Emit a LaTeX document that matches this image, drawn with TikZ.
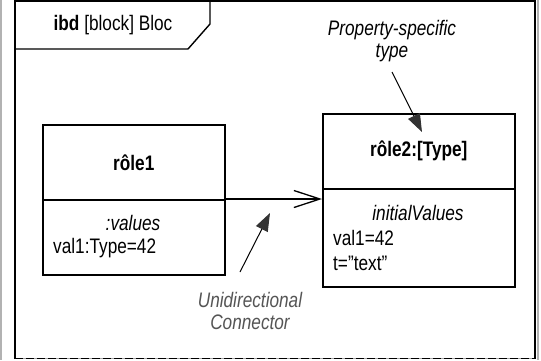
\documentclass[tikz,border=0pt]{standalone}
\usepackage{fontspec}
\setmainfont{Liberation Sans}[FakeStretch=0.82]
\usetikzlibrary{arrows.meta}
\definecolor{annot}{HTML}{333333}
\definecolor{greytxt}{HTML}{555555}
\tikzset{
  fnt/.style={font=\fontsize{21}{24}\selectfont},
  box/.style={draw=black, line width=1.6pt, inner sep=0pt, anchor=north west},
  txt/.style={fnt, inner sep=0pt},
  annarrow/.style={line width=1pt, -{Triangle[length=18pt,width=13pt,fill=annot,color=annot]}},
}
\begin{document}
\begin{tikzpicture}[x=1pt,y=-1pt]
\useasboundingbox (0,0) rectangle (541,360);
\fill[white] (0,0) rectangle (541,360);
% page edges
\draw[gray!60, line width=1.2pt] (1,0) -- (1,360);
\draw[gray!60, line width=1.2pt] (538,0) -- (538,360);
% frame
\draw[black, line width=1.8pt] (15,359) -- (15,0.9) -- (535,0.9) -- (535,359);
\draw[gray!70, line width=1.6pt] (15,358.5) -- (535,358.5);
\draw[black, line width=1.6pt, dash pattern=on 8pt off 3pt] (15,358.5) -- (535,358.5);
\draw[black, line width=1.4pt] (15,49) -- (188,49) -- (210,24) -- (210,0.9);
\node[txt] (title) at (113,25) {\textbf{ibd} [block] Bloc};
% block rôle1
\node[box, minimum width=182pt, minimum height=75pt] (r1h) at (42,124) {};
\node[box, minimum width=182pt, minimum height=75pt] (r1b) at (42,199) {};
\node[txt, font=\fontsize{21}{24}\selectfont\bfseries] (r1t) at (r1h.center) {rôle1};
\node[txt, font=\fontsize{21}{24}\selectfont\itshape] (r1v) at (133,223) {:values};
\node[txt, anchor=west] (r1a) at (53,248) {val1:Type=42};
% block rôle2
\node[box, minimum width=192pt, minimum height=75pt] (r2h) at (322,113) {};
\node[box, minimum width=192pt, minimum height=98pt] (r2b) at (322,188) {};
\node[txt, font=\fontsize{21}{24}\selectfont\bfseries] (r2t) at (r2h.center) {rôle2:[Type]};
\node[txt, font=\fontsize{21}{24}\selectfont\itshape] (r2v) at (418,213) {initialValues};
\node[txt, anchor=west] (r2a) at (333,238) {val1=42};
\node[txt, anchor=west] (r2c) at (333,263) {t=\symbol{34}text\symbol{34}};
% connector
\coordinate (cend) at (r1b.north east -| r2b.west);
\draw[line width=1.1pt, -{Straight Barb[length=26pt,width=17pt,line width=1.3pt]}] (r1b.north east) -- (cend);
% annotations
\node[txt, font=\fontsize{21}{22}\selectfont\itshape, align=center] (pst) at (392,41) {Property-specific\\type};
\coordinate (pstart) at (392,72);
\coordinate (ptip) at (422,132);
\draw[annarrow] (pstart) -- (ptip);
\node[txt, font=\fontsize{21}{22}\selectfont\itshape, text=greytxt, align=center] (uc) at (250,311) {Unidirectional\\Connector};
\coordinate (ustart) at (240,272);
\coordinate (utip) at (270,213);
\draw[annarrow] (ustart) -- (utip);
\end{tikzpicture}
\end{document}
